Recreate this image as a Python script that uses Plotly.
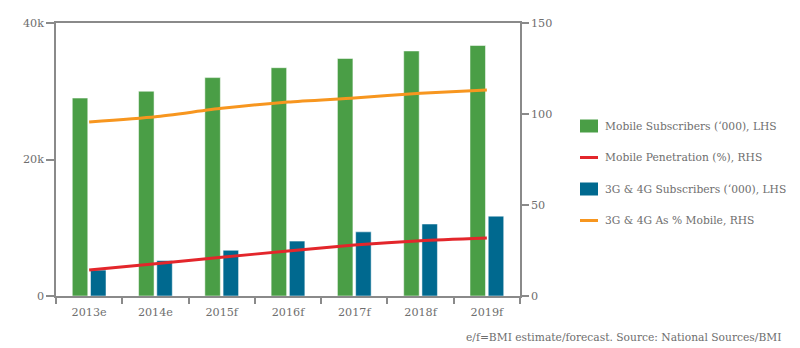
import plotly.graph_objects as go

# Categories and series ('000 subscribers on the left axis, % on the right axis)
years = ["2013e", "2014e", "2015f", "2016f", "2017f", "2018f", "2019f"]
mobile_subs = [29000, 30000, 32000, 33450, 34800, 35900, 36700]
subs_3g4g = [3800, 5200, 6700, 8050, 9400, 10550, 11700]
mobile_penetration = [14.3, 17.7, 21.3, 24.7, 28.0, 30.4, 31.9]
share_3g4g = [95.6, 98.5, 103.1, 106.6, 108.8, 111.4, 113.2]

left_ticks = [0, 20000, 40000]
left_tick_text = ["0", "20k", "40k"]

GREEN = "#4a9e46"
BLUE = "#00698f"
RED = "#e3262b"
ORANGE = "#f7961f"
TEXT = "#6e6e6e"
AXIS = "#8a8a8a"
FONT = "DejaVu Serif"

fig = go.Figure()

fig.add_trace(go.Bar(
    x=years, y=mobile_subs, name="Mobile Subscribers ('000), LHS",
    marker=dict(color=GREEN, line=dict(color="rgba(255,255,255,0.5)", width=1)),
    yaxis="y",
))
fig.add_trace(go.Bar(
    x=years, y=subs_3g4g, name="3G & 4G Subscribers ('000), LHS",
    marker=dict(color=BLUE, line=dict(color="rgba(255,255,255,0.5)", width=1)),
    yaxis="y",
))
fig.add_trace(go.Scatter(
    x=years, y=mobile_penetration, name="Mobile Penetration (%), RHS",
    mode="lines", line=dict(color=RED, width=3, shape="spline", smoothing=0.6),
    yaxis="y2",
))
fig.add_trace(go.Scatter(
    x=years, y=share_3g4g, name="3G & 4G As % Mobile, RHS",
    mode="lines", line=dict(color=ORANGE, width=3, shape="spline", smoothing=0.6),
    yaxis="y2",
))

# Hand-placed legend to the right of the plot (paper coordinates)
L, R, T, B = 56, 520, 23, 296
W, H = R - L, B - T


def px(x):
    return (x - L) / W


def py(y):
    return (B - y) / H


legend_items = [
    ("box", GREEN, 126, "Mobile Subscribers (\u2018000), LHS"),
    ("line", RED, 157.5, "Mobile Penetration (%), RHS"),
    ("box", BLUE, 189, "3G & 4G Subscribers (\u2018000), LHS"),
    ("line", ORANGE, 220.5, "3G & 4G As % Mobile, RHS"),
]
shapes = []
annotations = []
for kind, color, yc, label in legend_items:
    if kind == "box":
        shapes.append(dict(type="rect", xref="paper", yref="paper",
                           x0=px(580), x1=px(598), y0=py(yc + 6.5), y1=py(yc - 6.5),
                           fillcolor=color, line=dict(width=0)))
    else:
        shapes.append(dict(type="line", xref="paper", yref="paper",
                           x0=px(580), x1=px(598), y0=py(yc), y1=py(yc),
                           line=dict(color=color, width=3)))
    annotations.append(dict(xref="paper", yref="paper", x=px(603), y=py(yc),
                            text=label, showarrow=False, xanchor="left", yanchor="middle",
                            font=dict(family=FONT, size=10.7, color=TEXT)))

annotations.append(dict(xref="paper", yref="paper", x=px(783), y=py(337),
                        text="e/f=BMI estimate/forecast. Source: National Sources/BMI",
                        showarrow=False, xanchor="right", yanchor="middle",
                        font=dict(family=FONT, size=10.7, color=TEXT)))

fig.update_layout(
    width=800, height=348,
    margin=dict(l=L, r=800 - R, t=T, b=348 - B),
    paper_bgcolor="white", plot_bgcolor="white",
    barmode="group", bargap=0.45, bargroupgap=0.15,
    showlegend=False,
    font=dict(family=FONT, size=11, color=TEXT),
    xaxis=dict(
        type="category", showline=True, linecolor=AXIS, linewidth=1.5, mirror=True,
        ticks="outside", tickson="boundaries", ticklen=6, tickcolor=AXIS, tickwidth=1.5,
        ticklabelstandoff=5,
        showgrid=False, tickfont=dict(family=FONT, size=11.2, color=TEXT),
    ),
    yaxis=dict(
        range=[0, 40000], tickvals=left_ticks, ticktext=left_tick_text,
        showline=True, linecolor=AXIS, linewidth=1.5,
        ticks="outside", ticklen=8, tickcolor=AXIS, tickwidth=1.5,
        showgrid=False, zeroline=False, tickfont=dict(family=FONT, size=11.2, color=TEXT),
    ),
    yaxis2=dict(
        range=[0, 150], dtick=50, overlaying="y", side="right",
        showline=True, linecolor=AXIS, linewidth=1.5,
        ticks="outside", ticklen=7, tickcolor=AXIS, tickwidth=1.5,
        showgrid=False, zeroline=False, tickfont=dict(family=FONT, size=11.2, color=TEXT),
    ),
    shapes=shapes,
    annotations=annotations,
)

fig.write_html("out.html")
